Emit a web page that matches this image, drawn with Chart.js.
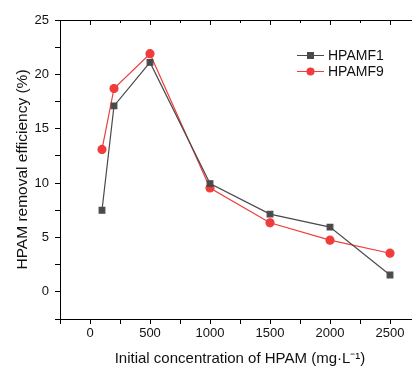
<!DOCTYPE html>
<html>
<head>
<meta charset="utf-8">
<script src="https://cdn.jsdelivr.net/npm/chart.js@4.4.1/dist/chart.umd.min.js"></script>
<style>
  html, body { margin: 0; padding: 0; background: #fff; overflow: hidden; }
  #wrap { width: 440px; height: 368px; }
</style>
</head>
<body>
<div id="wrap"><canvas id="c" width="440" height="368"></canvas></div>
<script>
// concentrations (mg/L)
const concentrations = [100, 200, 500, 1000, 1500, 2000, 2500];
const hpamf1 = [7.5, 17.1, 21.1, 9.95, 7.15, 5.95, 1.55];
const hpamf9 = [13.1, 18.7, 21.9, 9.55, 6.35, 4.75, 3.55];
const seriesNames = ['HPAMF1', 'HPAMF9'];
const xTickLabels = [0, 500, 1000, 1500, 2000, 2500];
const yTickLabels = [0, 5, 10, 15, 20, 25];

const FONT = '"Liberation Sans", Arial, sans-serif';
const GREY = '#4a4a4a';
const RED = '#f03c3c';

function pts(ys) {
    return concentrations.map((x, i) => ({ x: x, y: ys[i] }));
}

// top spine + its ticks + legend
const extras = {
    id: 'extras',
    afterDraw(chart) {
        const ctx = chart.ctx;
        const a = chart.chartArea;
        const xs = chart.scales.x;
        ctx.save();
        ctx.strokeStyle = '#000';
        ctx.lineWidth = 1;
        ctx.beginPath();
        ctx.moveTo(a.left, a.top + 0.5);
        ctx.lineTo(a.right, a.top + 0.5);
        for (let v = 0; v <= 2750; v += 250) {
            const px = Math.round(xs.getPixelForValue(v)) + 0.5;
            const len = (v % 500 === 0) ? 5 : 3;
            ctx.moveTo(px, a.top);
            ctx.lineTo(px, a.top + len);
        }
        ctx.stroke();

        // legend
        const items = [
            { name: seriesNames[0], color: GREY, style: 'rect' },
            { name: seriesNames[1], color: RED, style: 'circle' }
        ];
        ctx.font = '14px ' + FONT;
        ctx.textBaseline = 'middle';
        items.forEach((it, i) => {
            const y = 55 + i * 16;
            ctx.strokeStyle = it.color;
            ctx.beginPath();
            ctx.moveTo(297, y + 0.5);
            ctx.lineTo(324, y + 0.5);
            ctx.stroke();
            ctx.fillStyle = it.color;
            if (it.style === 'rect') {
                ctx.fillRect(307, y - 3, 7, 7);
            } else {
                ctx.beginPath();
                ctx.arc(310.5, y + 0.5, 4, 0, Math.PI * 2);
                ctx.fill();
            }
            ctx.fillStyle = '#111';
            ctx.fillText(it.name, 328, y + 1);
        });
        ctx.restore();
    }
};

new Chart(document.getElementById('c'), {
    type: 'line',
    data: {
        datasets: [
            {
                label: seriesNames[0],
                data: pts(hpamf1),
                borderColor: GREY,
                backgroundColor: GREY,
                borderWidth: 1.2,
                pointStyle: 'rect',
                pointRadius: 4,
                pointHoverRadius: 4,
                tension: 0
            },
            {
                label: seriesNames[1],
                data: pts(hpamf9),
                borderColor: RED,
                backgroundColor: RED,
                borderWidth: 1.2,
                pointStyle: 'circle',
                pointRadius: 4,
                pointHoverRadius: 4,
                tension: 0
            }
        ]
    },
    options: {
        responsive: false,
        animation: false,
        layout: { padding: { top: 20, right: 20, left: 0, bottom: 0 } },
        plugins: {
            legend: { display: false },
            tooltip: { enabled: false }
        },
        scales: {
            x: {
                type: 'linear',
                min: -250,
                max: 2750,
                afterFit: s => { s.height = 49; },
                afterBuildTicks: s => {
                    const t = [];
                    for (let v = -250; v <= 2750; v += 250) t.push({ value: v });
                    s.ticks = t;
                },
                border: { display: true, color: '#000', width: 1 },
                grid: {
                    drawOnChartArea: false,
                    drawTicks: true,
                    tickLength: 5,
                    color: '#000'
                },
                ticks: {
                    autoSkip: false,
                    maxRotation: 0,
                    padding: 2,
                    color: '#111',
                    font: { family: FONT, size: 13 },
                    callback: v => xTickLabels.includes(v) ? String(v) : ''
                },
                title: {
                    display: true,
                    text: 'Initial concentration of HPAM (mg·L⁻¹)',
                    color: '#111',
                    font: { family: FONT, size: 15 },
                    padding: { top: 3, bottom: 0 }
                }
            },
            y: {
                min: -2.5,
                max: 25,
                afterFit: s => { s.width = 60; },
                afterBuildTicks: s => {
                    const t = [];
                    for (let v = -2.5; v <= 25; v += 2.5) t.push({ value: v });
                    s.ticks = t;
                },
                border: { display: true, color: '#000', width: 1 },
                grid: {
                    drawOnChartArea: false,
                    drawTicks: true,
                    tickLength: 5,
                    color: '#000'
                },
                ticks: {
                    autoSkip: false,
                    padding: 6,
                    color: '#111',
                    font: { family: FONT, size: 13 },
                    callback: v => yTickLabels.includes(v) ? String(v) : ''
                },
                title: {
                    display: true,
                    text: 'HPAM removal efficiency (%)',
                    color: '#111',
                    font: { family: FONT, size: 15.5 },
                    padding: { top: 13, bottom: 0 }
                }
            }
        }
    },
    plugins: [extras]
});
</script>
</body>
</html>
